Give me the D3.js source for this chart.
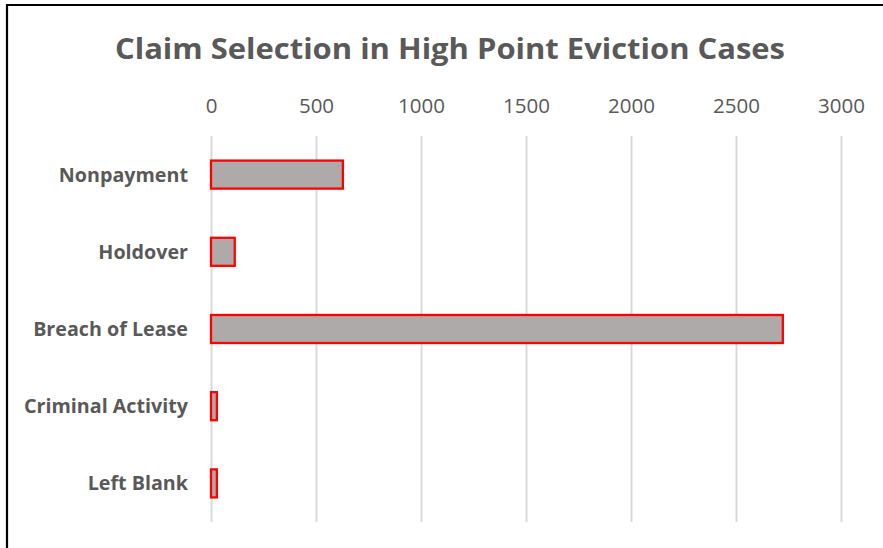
<!DOCTYPE html>
<html>
<head>
<meta charset="utf-8">
<script src="https://cdn.jsdelivr.net/npm/d3@7"></script>
<style>
  html, body { margin: 0; padding: 0; background: #fff; }
  svg { display: block; }
  text { font-family: "Open Sans", "Lato", sans-serif; fill: #595959; }
</style>
</head>
<body>
<svg id="chart" width="883" height="548"></svg>
<script>
// Claim types and case counts
const categories = ["Nonpayment", "Holdover", "Breach of Lease", "Criminal Activity", "Left Blank"];
const caseCounts = [628, 113, 2723, 28, 28];
const tickValues = [0, 500, 1000, 1500, 2000, 2500, 3000];
const chartTitle = "Claim Selection in High Point Eviction Cases";

const svg = d3.select("#chart");
const W = 883, H = 548;
const plot = { left: 211, right: 841, top: 136, bottom: 522 };

// Chart frame (top and left edges)
svg.append("path")
  .attr("d", `M7,${H} L7,5 L${W},5`)
  .attr("fill", "none")
  .attr("stroke", "#000")
  .attr("stroke-width", 2.2);

// Title
svg.append("text")
  .attr("x", 450)
  .attr("y", 59)
  .attr("text-anchor", "middle")
  .attr("font-size", 28)
  .attr("font-weight", 700)
  .attr("textLength", 670)
  .attr("lengthAdjust", "spacingAndGlyphs")
  .text(chartTitle);

const x = d3.scaleLinear().domain([0, 3000]).range([plot.left, plot.right]);
const y = d3.scaleBand().domain(categories).range([plot.top, plot.bottom])
  .paddingInner(0.637).paddingOuter(0.3185);

// Vertical gridlines
const grid = svg.append("g")
  .attr("transform", `translate(0,${plot.top})`)
  .call(d3.axisTop(x).tickValues(tickValues).tickSize(-(plot.bottom - plot.top)).tickFormat(""));
grid.select(".domain").remove();
grid.selectAll("line").attr("stroke", "#d9d9d9").attr("stroke-width", 2);

// Value axis labels along the top
const xAxis = svg.append("g")
  .attr("transform", `translate(0,113)`)
  .call(d3.axisTop(x).tickValues(tickValues).tickSize(0).tickPadding(0).tickFormat(d3.format("d")));
xAxis.select(".domain").remove();
xAxis.selectAll("text")
  .attr("font-size", 20.5)
  .style("font-family", '"Open Sans", "Lato", sans-serif')
  .attr("fill", "#595959")
  .attr("dy", 0);

// Category labels
const yAxis = svg.append("g")
  .attr("transform", `translate(188,0)`)
  .call(d3.axisLeft(y).tickSize(0).tickPadding(0));
yAxis.select(".domain").remove();
yAxis.selectAll("text")
  .attr("font-size", 19.7)
  .attr("font-weight", 700)
  .style("font-family", '"Open Sans", "Lato", sans-serif')
  .attr("fill", "#595959")
  .attr("dy", "0.36em");

// Bars
svg.append("g")
  .selectAll("rect")
  .data(categories)
  .join("rect")
  .attr("x", x(0))
  .attr("y", d => y(d))
  .attr("width", (d, i) => x(caseCounts[i]) - x(0))
  .attr("height", y.bandwidth())
  .attr("fill", "#aeaaaa")
  .attr("stroke", "#ff0000")
  .attr("stroke-width", 2.3);
</script>
</body>
</html>
